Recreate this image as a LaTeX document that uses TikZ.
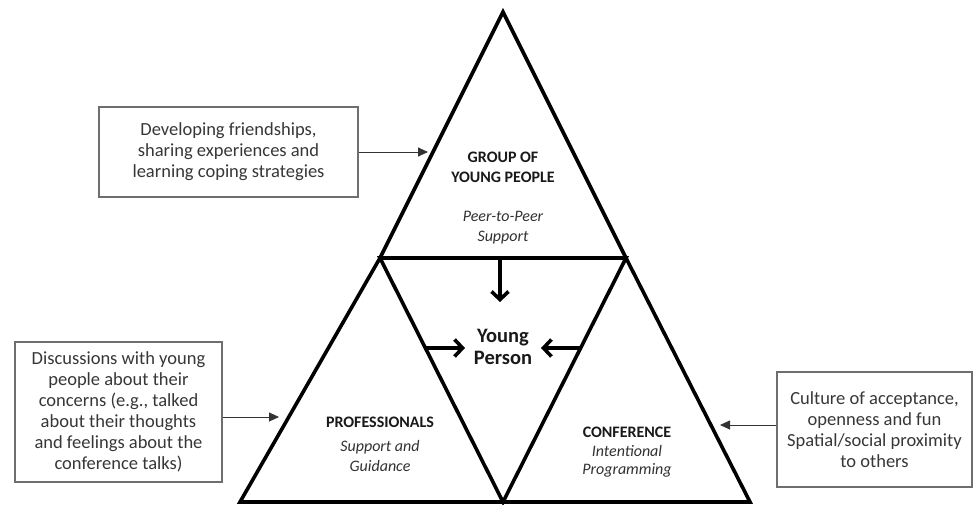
\documentclass[tikz,border=0pt]{standalone}
\usepackage{fontspec}
\setmainfont{Carlito}
\usetikzlibrary{arrows.meta}
\definecolor{boxline}{RGB}{110,110,110}
\definecolor{boxtext}{RGB}{55,55,55}
\definecolor{ittext}{RGB}{50,50,50}
\begin{document}
\begin{tikzpicture}[x=1pt,y=-1pt,
  tri/.style={draw=black,line width=3.6pt,line join=miter},
  infobox/.style={draw=boxline,line width=1.1pt,align=center,text=boxtext,
    font=\fontsize{18.5}{21}\selectfont,inner sep=0pt},
  thinarrow/.style={draw=black!80,line width=0.9pt,-{Triangle[length=10pt,width=9pt]}},
  thickarrow/.style={draw=black,line width=3.6pt,-{Straight Barb[length=8pt,width=17pt]}},
  headtext/.style={align=center,inner sep=0pt,text=black!90,font=\bfseries\fontsize{16}{20}\selectfont},
  subtext/.style={align=center,inner sep=0pt,text=ittext,font=\itshape\fontsize{16}{20}\selectfont}
]
\useasboundingbox (0,0) rectangle (976,505);
\fill[white] (0,0) rectangle (976,505);
% triangle vertices
\coordinate (A) at (503,12);
\coordinate (L) at (380,258);
\coordinate (R) at (626,258);
\coordinate (BL) at (240,502);
\coordinate (BM) at (503,502);
\coordinate (BR) at (750,502);
\draw[tri] (A) -- (L) -- (BL) -- (BR) -- (R) -- cycle;
\draw[tri] (L) -- (R) -- (BM) -- cycle;

% texts
\node[headtext] (group) at (503,167) {GROUP OF\\YOUNG PEOPLE};
\node[subtext] (peer) at (503,228) {Peer-to-Peer\\Support};
\node[align=center,inner sep=0pt,text=black!90,font=\bfseries\fontsize{20.5}{22}\selectfont] (young) at (503,347) {Young\\Person};
\node[headtext] (prof) at (380,422) {PROFESSIONALS};
\node[subtext] (profsub) at (380,456) {Support and\\Guidance};
\node[headtext] (conf) at (627,432) {CONFERENCE};
\node[subtext,font=\itshape\fontsize{16}{18}\selectfont] (confsub) at (627,461) {Intentional\\Programming};

% boxes
\node[infobox,minimum width=259pt,minimum height=90pt] (box1) at (228.5,152)
  {Developing friendships,\\sharing experiences and\\learning coping strategies};
\node[infobox,minimum width=207pt,minimum height=140pt] (box2) at (118.5,412)
  {Discussions with young\\people about their\\concerns (e.g., talked\\about their thoughts\\and feelings about the\\conference talks)};
\node[infobox,minimum width=195pt,minimum height=115pt] (box3) at (874.5,429.5)
  {Culture of acceptance,\\openness and fun\\Spatial/social proximity\\to others};

% thin arrows
\coordinate (t1) at (428,152);
\coordinate (t2) at (279,417);
\coordinate (t3) at (720,425);
\draw[thinarrow] (box1.east|-t1) -- (t1);
\draw[thinarrow] (box2.east|-t2) -- (t2);
\draw[thinarrow] (box3.west|-t3) -- (t3);

% thick arrows
\coordinate (d0) at (500,258);
\coordinate (d1) at (500,302);
\coordinate (l0) at (425,348);
\coordinate (l1) at (465,348);
\coordinate (r0) at (580,348);
\coordinate (r1) at (541,348);
\draw[thickarrow] (d0) -- (d1);
\draw[thickarrow] (l0) -- (l1);
\draw[thickarrow] (r0) -- (r1);
\end{tikzpicture}
\end{document}
